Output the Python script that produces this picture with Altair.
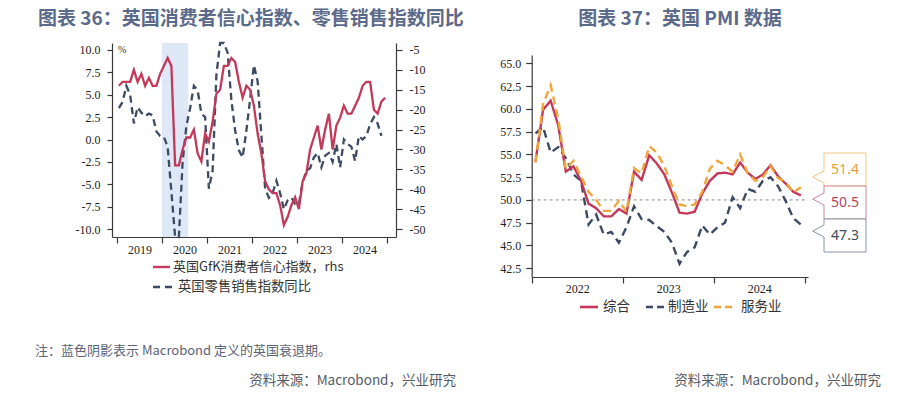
import altair as alt
import pandas as pd

# ---------------- data ----------------
# Left panel: monthly, Jan 2019 .. Dec 2024 (GfK, rhs) / Nov 2024 (retail yoy, %)
gfk = [-14, -13, -13, -13, -10, -13, -11, -14, -12, -14, -14, -11,
       -9, -7, -9, -34, -34, -30, -27, -27, -25, -31, -33, -26,
       -28, -23, -16, -15, -9, -9, -7, -8, -13, -17, -14, -15,
       -19, -26, -31, -38, -40, -41, -41, -44, -49, -47, -44, -42,
       -45, -38, -36, -30, -27, -24, -30, -25, -21, -30, -24, -22,
       -19, -21, -21, -19, -17, -14, -13, -13, -20, -21, -18, -17]
retail = [3.5, 4.2, 6.0, 5.0, 1.8, 3.6, 3.0, 2.6, 2.9, 2.7, 0.9, 0.4,
          0.3, -0.8, -5.8, -22.6, -13.1, -2.5, 1.5, 3.5, 6.0, 5.5, 2.9, 2.5,
          -5.5, -3.5, 7.2, 42.4, 24.6, 9.7, 4.4, 1.0, -1.2, -2.0, 1.0, 4.5,
          8.3, 6.5, 0.5, -5.5, -6.5, -6.0, -4.6, -6.0, -7.8, -6.8, -6.5, -7.2,
          -7.2, -4.8, -3.5, -3.2, -2.0, -1.5, -3.1, -1.8, -1.5, -2.5, -0.5, -3.1,
          0.0, -0.5, -0.8, -2.4, 0.4, 0.0, 0.4, 1.7, 2.5, 1.8, 0.4]
recession = [12, 19]          # month index (Jan 2019 = 0): Jan 2020 .. Jul 2020
left_start_year = 2019

# Right panel: UK PMI monthly, Jan 2022 .. Dec 2024
pmi_composite = [54.2, 59.9, 60.9, 58.2, 53.1, 53.7, 52.1, 49.6, 49.1, 48.2, 48.2, 49.0,
                 48.5, 53.1, 52.2, 54.9, 54.0, 52.8, 50.8, 48.6, 48.5, 48.7, 50.7, 52.1,
                 52.9, 53.0, 52.8, 54.1, 53.0, 52.3, 52.8, 53.8, 52.6, 51.8, 50.9, 50.5]
pmi_manufacturing = [57.3, 58.0, 55.2, 55.8, 54.6, 52.8, 52.1, 47.3, 48.4, 46.2, 46.5, 45.3,
                     47.0, 49.3, 47.9, 47.8, 47.1, 46.5, 45.3, 43.0, 44.3, 44.8, 47.2, 46.2,
                     47.0, 47.5, 50.3, 49.1, 51.2, 50.9, 52.1, 52.5, 51.5, 49.9, 48.0, 47.3]
pmi_services = [54.1, 60.5, 62.6, 58.9, 53.4, 54.3, 52.6, 50.9, 50.0, 48.8, 48.8, 49.9,
                48.7, 53.5, 52.9, 55.9, 55.2, 53.7, 51.5, 49.5, 49.3, 49.5, 50.9, 53.4,
                54.3, 53.8, 53.1, 55.0, 52.9, 52.1, 52.5, 53.7, 52.4, 52.0, 50.8, 51.4]
right_start_year = 2022

left_series = ["英国GfK消费者信心指数，rhs", "英国零售销售指数同比"]
right_series = ["综合", "制造业", "服务业"]
title_left = "图表 36：英国消费者信心指数、零售销售指数同比"
title_right = "图表 37：英国 PMI 数据"
note_left = "注：蓝色阴影表示 Macrobond 定义的英国衰退期。"
source_text = "资料来源：Macrobond，兴业研究"

# ---------------- style / layout ----------------
W, H = 902, 380
RED = "#C2395A"
NAVY = "#3D4A63"
ORANGE = "#F0A63A"
SHADE = "#DEE8F6"
AX = "#3a3a3a"
TITLE_C = "#5B6A8A"
CJK = "Noto Sans CJK SC"
SERIF = "Liberation Serif"

LX, LY = [104, 388], [229, 35]
RX, RY = [523.7, 800], [269, 47]
ly_dom = [-10.89, 10.78]
ry_dom = [v * 2.25 - 27.5 for v in ly_dom]

lx = alt.Scale(domain=[-1.333, 74.4], range=LX, nice=False, zero=False)
ly = alt.Scale(domain=ly_dom, range=LY, nice=False, zero=False, clamp=True)
ry = alt.Scale(domain=ry_dom, range=LY, nice=False, zero=False, clamp=True)
rx = alt.Scale(domain=[0, 36.45], range=RX, nice=False, zero=False)
rpy = alt.Scale(domain=[41.54, 65.91], range=RY, nice=False, zero=False)

common_axis = dict(grid=False, title="", labelFont=SERIF, labelFontSize=12, labelColor="#222",
                   domainColor=AX, tickColor=AX, domainWidth=1.2, tickWidth=1.2,
                   labelFlush=False, labelOverlap=False)

ax_lx = alt.Axis(orient="bottom", offset=-151, values=[0, 12, 24, 36, 48, 60, 72],
                 labelExpr=f"datum.value >= 72 ? '' : '' + ({left_start_year} + datum.value / 12)",
                 labelOffset=22.5, tickSize=6, labelPadding=1, **common_axis)
ax_ly = alt.Axis(orient="left", offset=-104, values=[-10, -7.5, -5, -2.5, 0, 2.5, 5, 7.5, 10],
                 labelExpr="(datum.value < 0 ? '-' : '') + format(abs(datum.value), '.1f')",
                 tickSize=5, labelPadding=7, **common_axis)
ax_ry = alt.Axis(orient="right", offset=-(W - LX[1]), values=list(range(-50, 0, 5)),
                 labelExpr="(datum.value < 0 ? '-' : '') + abs(datum.value)",
                 tickSize=6, labelPadding=7, **common_axis)
ax_rx = alt.Axis(orient="bottom", offset=-(H - RY[0]), values=[0, 12, 24, 36],
                 labelExpr=f"datum.value >= 36 ? '' : '' + ({right_start_year} + datum.value / 12)",
                 labelOffset=45.5, tickSize=6, labelPadding=0, **common_axis)
ax_rpy = alt.Axis(orient="left", offset=-RX[0], values=[42.5 + 2.5 * i for i in range(10)],
                  format=".1f", tickSize=6, labelPadding=5, **common_axis)

# ---------------- tables ----------------
df_retail = pd.DataFrame({"p": [i + 0.5 for i in range(len(retail))], "v": retail})
df_gfk = pd.DataFrame({"p": [i + 0.5 for i in range(len(gfk))], "v": gfk})
df_rec = pd.DataFrame({"s": [recession[0]], "e": [recession[1]], "top": [ly_dom[1]], "bot": [ly_dom[0]]})


def pmi_df(vals):
    return pd.DataFrame({"p": [i + 0.5 for i in range(len(vals))], "v": vals})


layers = []

# left panel
layers.append(alt.Chart(df_rec).mark_rect(color=SHADE).encode(
    x=alt.X("s:Q", scale=lx, axis=None), x2="e:Q",
    y=alt.Y("top:Q", scale=ly, axis=None), y2="bot:Q"))
layers.append(alt.Chart(df_retail).mark_line(color=NAVY, strokeWidth=2.3, strokeDash=[7, 4.5]).encode(
    x=alt.X("p:Q", scale=lx, axis=ax_lx), y=alt.Y("v:Q", scale=ly, axis=ax_ly)))
layers.append(alt.Chart(df_gfk).mark_line(color=RED, strokeWidth=2.3).encode(
    x=alt.X("p:Q", scale=lx, axis=None), y=alt.Y("v:Q", scale=ry, axis=ax_ry)))

# right panel
df_ref = pd.DataFrame({"a": [0], "b": [36.45], "y": [50]})
layers.append(alt.Chart(df_ref).mark_rule(color="#8a8a8a", strokeWidth=1, strokeDash=[3, 3]).encode(
    x=alt.X("a:Q", scale=rx, axis=ax_rx), x2="b:Q", y=alt.Y("y:Q", scale=rpy, axis=ax_rpy)))
layers.append(alt.Chart(pmi_df(pmi_manufacturing)).mark_line(color=NAVY, strokeWidth=2.4, strokeDash=[8, 5]).encode(
    x=alt.X("p:Q", scale=rx, axis=None), y=alt.Y("v:Q", scale=rpy, axis=None)))
layers.append(alt.Chart(pmi_df(pmi_composite)).mark_line(color=RED, strokeWidth=2.4).encode(
    x=alt.X("p:Q", scale=rx, axis=None), y=alt.Y("v:Q", scale=rpy, axis=None)))
layers.append(alt.Chart(pmi_df(pmi_services)).mark_line(color=ORANGE, strokeWidth=2.4, strokeDash=[8, 5]).encode(
    x=alt.X("p:Q", scale=rx, axis=None), y=alt.Y("v:Q", scale=rpy, axis=None)))


def txt(s, x, y, size, color, align="left", weight="normal", font=CJK, baseline="middle"):
    return alt.Chart(pd.DataFrame({"t": [s]})).mark_text(
        align=align, baseline=baseline, fontSize=size, font=font, fontWeight=weight, color=color
    ).encode(x=alt.value(x), y=alt.value(y), text="t:N")


def seg(x0, y0, x1, y1, color, width=2.4, dash=None):
    kw = dict(color=color, strokeWidth=width)
    if dash:
        kw["strokeDash"] = dash
    return alt.Chart(pd.DataFrame({"a": [0]})).mark_rule(**kw).encode(
        x=alt.value(x0), y=alt.value(y0), x2=alt.value(x1), y2=alt.value(y1))


# titles & notes
layers.append(txt(title_left, 30, 2, 19, TITLE_C, weight="bold", baseline="top"))
layers.append(txt(title_right, 672, 2, 19, TITLE_C, align="center", weight="bold", baseline="top"))
layers.append(txt(note_left, 27, 343, 13, "#5B6478"))
layers.append(txt(source_text, 448, 373, 13.5, "#555a66", align="right"))
layers.append(txt(source_text, 873, 373, 13.5, "#555a66", align="right"))
layers.append(txt("%", 110, 42, 10, "#333", font=SERIF))

# left legend
layers.append(seg(145, 259, 162, 259, RED, 2.4))
layers.append(txt(left_series[0], 165, 259, 13, "#333"))
layers.append(seg(145, 279, 164, 279, NAVY, 2.4, [7, 5]))
layers.append(txt(left_series[1], 170, 279, 13.3, "#333"))

# right legend
LEG_Y = 299
layers.append(seg(572, LEG_Y, 590, LEG_Y, RED, 2.6))
layers.append(txt(right_series[0], 595, LEG_Y, 13.5, "#333"))
layers.append(seg(638, LEG_Y, 656, LEG_Y, NAVY, 2.6, [7, 4]))
layers.append(txt(right_series[1], 660, LEG_Y, 13.5, "#333"))
layers.append(seg(706, LEG_Y, 728, LEG_Y, ORANGE, 2.6, [7, 4]))
layers.append(txt(right_series[2], 733, LEG_Y, 13.5, "#333"))

# end-value callouts
callouts = [
    (f"{pmi_services[-1]:.1f}", 145, 178, 169, "#E3A03E", "#F3C67E"),
    (f"{pmi_composite[-1]:.1f}", 178, 211, 191, "#B0465E", "#C98898"),
    (f"{pmi_manufacturing[-1]:.1f}", 211, 244, 223, "#3E4A5C", "#8C95A5"),
]
BX0, BX1, TIPX = 816, 858, 804.7
for label, y0, y1, tip, tc, bc in callouts:
    layers.append(alt.Chart(pd.DataFrame({"a": [0]})).mark_rect(fill="white", stroke=bc, strokeWidth=1).encode(
        x=alt.value(BX0), x2=alt.value(BX1), y=alt.value(y0), y2=alt.value(y1)))
for label, y0, y1, tip, tc, bc in callouts:
    layers.append(seg(BX0, tip - 6, BX0, tip + 6, "white", 2))
    layers.append(seg(BX0, tip - 6, TIPX, tip, bc, 1))
    layers.append(seg(TIPX, tip, BX0, tip + 6, bc, 1))
    layers.append(txt(label, (BX0 + BX1) / 2, (y0 + y1) / 2, 14, tc, align="center", font="Noto Sans"))

chart = alt.layer(*layers).resolve_scale(x="independent", y="independent").properties(
    width=W, height=H, autosize=alt.AutoSizeParams(type="none"), padding=0
).configure_view(strokeWidth=0)

chart.save("out.html", embed_options={"renderer": "svg", "actions": False})
